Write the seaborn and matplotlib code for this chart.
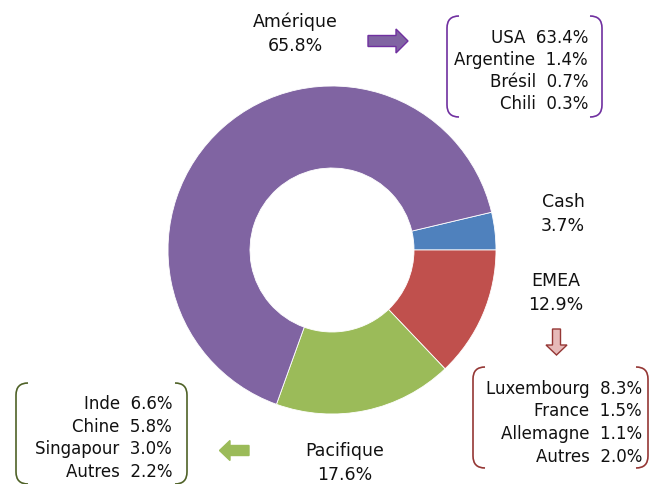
import matplotlib
matplotlib.use("Agg")
import matplotlib.pyplot as plt
import seaborn as sns
from matplotlib.path import Path
from matplotlib.patches import PathPatch, Polygon

# Data
regions = ["Cash", "EMEA", "Pacifique", "Amérique"]
shares = [3.7, 12.9, 17.6, 65.8]
colors = ["#4F81BD", "#C0504D", "#9BBB59", "#8064A2"]

amer_names = ["USA", "Argentine", "Brésil", "Chili"]
amer_vals = [63.4, 1.4, 0.7, 0.3]
emea_names = ["Luxembourg", "France", "Allemagne", "Autres"]
emea_vals = [8.3, 1.5, 1.1, 2.0]
pac_names = ["Inde", "Chine", "Singapour", "Autres"]
pac_vals = [6.6, 5.8, 3.0, 2.2]

sns.set_theme(style="white")
plt.rcParams['font.family'] = ['DejaVu Sans']

W, H = 651, 484
fig = plt.figure(figsize=(W / 100, H / 100), dpi=100)
fig.patch.set_facecolor("white")

def fx(px):
    return px / W

def fy(py):
    return 1 - py / H

# donut axes: center (332,250), outer radius 164
cx, cy, R = 332, 250, 164
ax = fig.add_axes([fx(cx - R), fy(cy + R), 2 * R / W, 2 * R / H])
start = 3.7 / 100 * 360
ax.pie(shares, colors=sns.color_palette(colors), startangle=start, counterclock=False,
       radius=1, wedgeprops=dict(width=0.5, edgecolor="white", linewidth=0.6))
ax.set_xlim(-1, 1)
ax.set_ylim(-1, 1)
ax.set_aspect("auto")
ax.axis("off")

fs = 12.5
tc = "#111111"

def label(x, y, lines):
    for i, t in enumerate(lines):
        fig.text(fx(x), fy(y + i * 24), t, ha="center", va="center", fontsize=fs, color=tc)

label(295, 22, ["Amérique", "%.1f%%" % shares[3]])
label(563, 202, ["Cash", "%.1f%%" % shares[0]])
label(556, 281, ["EMEA", "%.1f%%" % shares[1]])
label(345, 451, ["Pacifique", "%.1f%%" % shares[2]])

def box_text(xr, y0, dy, names, vals):
    for i, (n, v) in enumerate(zip(names, vals)):
        fig.text(fx(xr), fy(y0 + i * dy), "%s  %.1f%%" % (n, v), ha="right", va="center",
                 fontsize=fs - 0.5, color=tc)

def brackets(x0, x1, y0, y1, color, r=12):
    t = fig.transFigure
    codes = [Path.MOVETO, Path.CURVE3, Path.CURVE3, Path.LINETO, Path.CURVE3, Path.CURVE3]
    left = [(x0 + r, y0), (x0, y0), (x0, y0 + r), (x0, y1 - r), (x0, y1), (x0 + r, y1)]
    right = [(x1 - r, y0), (x1, y0), (x1, y0 + r), (x1, y1 - r), (x1, y1), (x1 - r, y1)]
    for pts in (left, right):
        verts = [(fx(a), fy(b)) for a, b in pts]
        fig.patches.append(PathPatch(Path(verts, codes), transform=t, fill=False,
                                     edgecolor=color, linewidth=1.2))

brackets(447, 602, 16, 117, "#7030A0")
box_text(588, 38, 22, amer_names, amer_vals)

brackets(473, 648, 367, 468, "#953735")
box_text(642, 389, 22.5, emea_names, emea_vals)

brackets(16, 187, 383, 484, "#4F6228")
box_text(172, 404, 22.7, pac_names, pac_vals)

def arrow(pts, fc, ec):
    fig.patches.append(Polygon([(fx(a), fy(b)) for a, b in pts], closed=True,
                               transform=fig.transFigure, facecolor=fc, edgecolor=ec, linewidth=1))

# right arrow (purple)
arrow([(368, 35.5), (396, 35.5), (396, 29), (408, 41), (396, 53), (396, 46.5), (368, 46.5)],
      "#8064A2", "#7030A0")
# down arrow (pink)
arrow([(552.5, 329), (560.5, 329), (560.5, 345), (567, 345), (556.5, 355), (546, 345), (552.5, 345)],
      "#E6B9B8", "#953735")
# left arrow (green)
arrow([(249, 445.5), (230, 445.5), (230, 440.5), (219.5, 450.5), (230, 460.5), (230, 455.5), (249, 455.5)],
      "#9BBB59", "#9BBB59")

fig.savefig("out.png", dpi=100, facecolor="white")
